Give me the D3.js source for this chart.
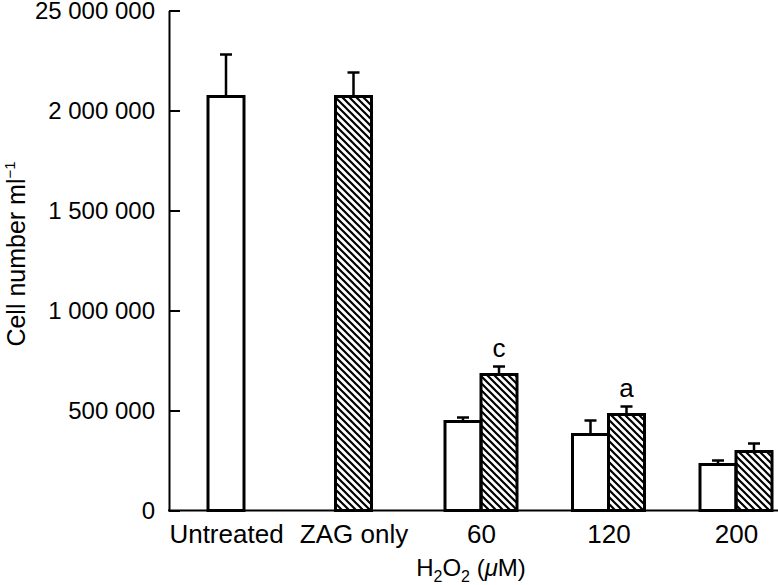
<!DOCTYPE html>
<html>
<head>
<meta charset="utf-8">
<script src="https://cdn.jsdelivr.net/npm/d3@7"></script>
<style>
  body { margin: 0; background: #fff; }
  svg { display: block; font-family: "Liberation Sans", Arial, Helvetica, sans-serif; }
</style>
</head>
<body>
<div id="chart"></div>
<script>
// values
var categories = ["Untreated", "ZAG only", "60", "120", "200"];
var openMeans = [2070000, null, 445000, 380000, 230000];
var openErrors = [210000, null, 20000, 70000, 20000];
var hatchMeans = [null, 2070000, 680000, 480000, 295000];
var hatchErrors = [null, 120000, 40000, 40000, 40000];
var sigLetters = [null, null, "c", "a", null];
var yTicks = [0, 500000, 1000000, 1500000, 2000000, 2500000];
var yTickLabels = ["0", "500 000", "1 000 000", "1 500 000", "2 000 000", "25 000 000"];

var width = 778, height = 585;
var axisX = 169, baseY = 510.5, topY = 10.5;
var barW = 36;

var svg = d3.select("#chart").append("svg")
    .attr("width", width)
    .attr("height", height);

// hatch fill
svg.append("defs").append("pattern")
    .attr("id", "hatch")
    .attr("patternUnits", "userSpaceOnUse")
    .attr("width", 7)
    .attr("height", 7)
  .append("path")
    .attr("d", "M0,0L7,7M-1,6L1,8M6,-1L8,1")
    .attr("stroke", "#000")
    .attr("stroke-width", 2.2);

var x = d3.scalePoint()
    .domain(categories)
    .range([226, 736]);

var y = d3.scaleLinear()
    .domain([0, 2500000])
    .range([baseY, topY]);

// build one row per bar
var bars = [];
categories.forEach(function (c, i) {
    var both = openMeans[i] != null && hatchMeans[i] != null;
    if (openMeans[i] != null)
        bars.push({cat: c, kind: "open", mean: openMeans[i], err: openErrors[i], cx: x(c) - (both ? barW / 2 : 0)});
    if (hatchMeans[i] != null)
        bars.push({cat: c, kind: "hatch", mean: hatchMeans[i], err: hatchErrors[i], cx: x(c) + (both ? barW / 2 : 0), letter: sigLetters[i]});
});

// error bars (upper only)
var eb = svg.append("g").attr("stroke", "#000").attr("stroke-width", 2.5);
eb.selectAll("line.v").data(bars).enter().append("line")
    .attr("x1", d => d.cx).attr("x2", d => d.cx)
    .attr("y1", d => y(d.mean)).attr("y2", d => y(d.mean + d.err));
eb.selectAll("line.cap").data(bars).enter().append("line")
    .attr("x1", d => d.cx - 6).attr("x2", d => d.cx + 6)
    .attr("y1", d => y(d.mean + d.err)).attr("y2", d => y(d.mean + d.err));

// bars
svg.append("g").selectAll("rect").data(bars).enter().append("rect")
    .attr("x", d => d.cx - barW / 2)
    .attr("y", d => y(d.mean))
    .attr("width", barW)
    .attr("height", d => baseY - y(d.mean))
    .attr("fill", d => d.kind == "hatch" ? "url(#hatch)" : "#fff")
    .attr("stroke", "#000")
    .attr("stroke-width", 3);

// significance letters
svg.append("g").selectAll("text").data(bars.filter(d => d.letter)).enter().append("text")
    .attr("x", d => d.cx)
    .attr("y", d => y(d.mean + d.err) - 10)
    .attr("text-anchor", "middle")
    .style("font-size", "26px")
    .text(d => d.letter);

// y axis, ticks pointing inward
var yAxis = svg.append("g")
    .attr("transform", "translate(" + axisX + ",0)")
    .call(d3.axisLeft(y)
        .tickValues(yTicks)
        .tickFormat((d, i) => yTickLabels[i])
        .tickSizeInner(-11)
        .tickSizeOuter(0)
        .tickPadding(14));
yAxis.select(".domain").attr("stroke-width", 2);
yAxis.selectAll(".tick line").attr("stroke-width", 2);
yAxis.selectAll("text").style("font-size", "24px").attr("fill", "#000");

// baseline
svg.append("line")
    .attr("x1", axisX - 1).attr("x2", width)
    .attr("y1", baseY).attr("y2", baseY)
    .attr("stroke", "#000").attr("stroke-width", 2);

// category labels
var xAxis = svg.append("g")
    .attr("transform", "translate(0," + baseY + ")")
    .call(d3.axisBottom(x).tickSize(0).tickPadding(14));
xAxis.select(".domain").remove();
xAxis.selectAll("text").style("font-size", "26px").attr("fill", "#000");

// axis titles
var xt = svg.append("text")
    .attr("x", 471).attr("y", 576)
    .attr("text-anchor", "middle")
    .style("font-size", "24px");
xt.append("tspan").text("H");
xt.append("tspan").text("2").style("font-size", "16px").attr("dy", 6);
xt.append("tspan").text("O").attr("dy", -6);
xt.append("tspan").text("2").style("font-size", "16px").attr("dy", 6);
xt.append("tspan").text(" (").attr("dy", -6);
xt.append("tspan").text("\u03bc").style("font-style", "italic");
xt.append("tspan").text("M)");

var yt = svg.append("text")
    .attr("transform", "translate(25,254) rotate(-90)")
    .attr("text-anchor", "middle")
    .style("font-size", "25px");
yt.append("tspan").text("Cell number ml");
yt.append("tspan").text("\u22121").style("font-size", "15px").attr("dy", -10);
</script>
</body>
</html>
